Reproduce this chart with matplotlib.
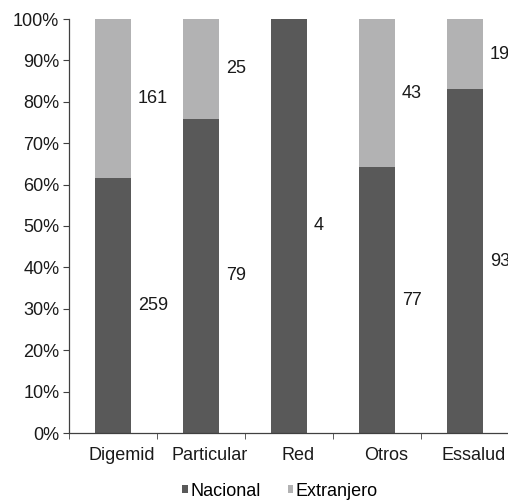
import matplotlib
matplotlib.use('Agg')
import matplotlib.pyplot as plt
import matplotlib.transforms as mtransforms
from matplotlib.patches import Rectangle
import numpy as np

categorias = ["Digemid", "Particular", "Red", "Otros", "Essalud"]
nacional = [259, 79, 4, 77, 93]
extranjero = [161, 25, 0, 43, 19]

plt.rcParams['font.family'] = ['Liberation Sans', 'DejaVu Sans']

nac = np.array(nacional, dtype=float)
ext = np.array(extranjero, dtype=float)
total = nac + ext
p_nac = nac / total * 100
p_ext = ext / total * 100

W, H = 520, 501
fig = plt.figure(figsize=(W / 100, H / 100), dpi=100)
ax = fig.add_axes([69 / W, (H - 433) / H, (508 - 69) / W, 414 / H])

x = np.arange(len(categorias))
bw = 0.41
c_nac = '#595959'
c_ext = '#b2b2b3'
ax.bar(x, p_nac, bw, color=c_nac, label='Nacional')
ax.bar(x, p_ext, bw, bottom=p_nac, color=c_ext, label='Extranjero')

fs = 13
tc = '#1a1a1a'
for i in range(len(categorias)):
    xt = x[i] + bw / 2 + 0.08
    ax.text(xt, p_nac[i] / 2, str(nacional[i]), va='center', ha='left',
            fontsize=fs, color=tc, clip_on=False)
    if extranjero[i] > 0:
        ax.text(xt, p_nac[i] + p_ext[i] / 2, str(extranjero[i]), va='center',
                ha='left', fontsize=fs, color=tc, clip_on=False)

ax.set_ylim(0, 100)
ax.set_xlim(-0.5, 4.49)
ax.set_yticks(np.arange(0, 101, 10))
ax.set_yticklabels([f"{v}%" for v in range(0, 101, 10)], fontsize=fs, color=tc)
ax.set_xticks(x)
ax.set_xticklabels(categorias, fontsize=fs, color=tc)
ax.set_xticks(np.arange(-0.5, 4.0, 1), minor=True)
ax.tick_params(axis='x', which='major', length=0, pad=10)
ax.tick_params(axis='x', which='minor', length=4, direction='out', color='#404040')
ax.tick_params(axis='y', length=4, direction='out', color='#404040', pad=3)

# category labels sit a little right of the bar centres
shift = mtransforms.ScaledTranslation(9 / 100, 0, fig.dpi_scale_trans)
for lab in ax.get_xticklabels():
    lab.set_transform(lab.get_transform() + shift)

for s in ['top', 'right']:
    ax.spines[s].set_visible(False)
for s in ['left', 'bottom']:
    ax.spines[s].set_color('#404040')
    ax.spines[s].set_linewidth(0.9)

fig.legend(loc='center', bbox_to_anchor=(280 / W, 1 - 491 / H), ncol=2,
           frameon=False, fontsize=fs, handlelength=0.28, handleheight=0.28,
           handletextpad=0.15, columnspacing=1.5)

# the original picture is cut off at its right side
fig.patches.append(Rectangle((508 / W, 0), 12 / W, 1, transform=fig.transFigure,
                             facecolor='white', edgecolor='none', zorder=10))

fig.savefig('out.png', dpi=100)
